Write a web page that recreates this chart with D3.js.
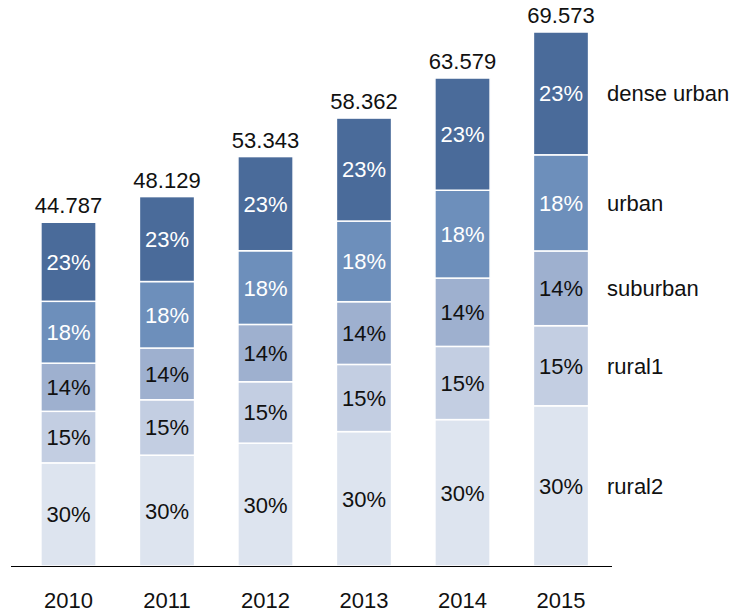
<!DOCTYPE html>
<html>
<head>
<meta charset="utf-8">
<script src="https://cdn.jsdelivr.net/npm/d3@7"></script>
<style>
html,body{margin:0;padding:0;background:#fff;}
svg text{font-family:"Liberation Sans",Arial,sans-serif;}
</style>
</head>
<body>
<svg id="chart" width="732" height="614"></svg>
<script>
const years = ["2010","2011","2012","2013","2014","2015"];
const totals = [44.787, 48.129, 53.343, 58.362, 63.579, 69.573];
const segments = ["rural2","rural1","suburban","urban","dense urban"];
const shares = [0.30, 0.15, 0.14, 0.18, 0.23];
const shareLabels = ["30%","15%","14%","18%","23%"];
const colors = ["#dde4ef","#c3cee2","#9eb0cf","#6d8fbb","#4a6b9a"];
const labelColors = ["#111","#111","#111","#fff","#fff"];

const svg = d3.select("#chart");
const fontSize = 22;

const x = d3.scaleBand().domain(years).range([19.25, 610.25]).paddingInner(0.44).paddingOuter(0.22);
const y = d3.scaleLinear().domain([0, 69.573]).range([566, 32]);

// build stacked data
const rows = years.map((yr, i) => {
  const r = {year: yr, total: totals[i]};
  segments.forEach((s, j) => r[s] = totals[i] * shares[j]);
  return r;
});
const stack = d3.stack().keys(segments)(rows);

const g = svg.append("g");
stack.forEach((layer, j) => {
  const lg = g.append("g");
  lg.selectAll("rect").data(layer).enter().append("rect")
    .attr("x", d => x(d.data.year))
    .attr("width", x.bandwidth())
    .attr("y", d => y(d[1]))
    .attr("height", d => y(d[0]) - y(d[1]))
    .attr("fill", colors[j])
    .attr("stroke", "#fff")
    .attr("stroke-width", 1.5);
  lg.selectAll("text").data(layer).enter().append("text")
    .attr("x", d => x(d.data.year) + x.bandwidth()/2)
    .attr("y", d => (y(d[0]) + y(d[1]))/2)
    .attr("dy", "0.36em")
    .attr("text-anchor", "middle")
    .attr("font-size", fontSize)
    .attr("fill", labelColors[j])
    .text(shareLabels[j]);
});

// totals
svg.append("g").selectAll("text").data(rows).enter().append("text")
  .attr("x", d => x(d.year) + x.bandwidth()/2)
  .attr("y", d => y(d.total) - 9)
  .attr("text-anchor", "middle")
  .attr("font-size", fontSize)
  .attr("fill", "#111")
  .text(d => d3.format(".3f")(d.total));

// axis
const axis = d3.axisBottom(x).tickSize(0).tickPadding(0);
const ax = svg.append("g").attr("transform", "translate(0,566)").call(axis);
ax.select(".domain").remove();
ax.selectAll("text").attr("font-size", fontSize).attr("fill", "#111")
  .attr("font-family", "Liberation Sans, Arial, sans-serif")
  .attr("dy", null).attr("y", 42);
svg.append("line").attr("x1", 11).attr("x2", 612).attr("y1", 566.5).attr("y2", 566.5)
  .attr("stroke", "#000").attr("stroke-width", 1.2);

// legend labels beside last bar
const last = stack.map(l => l[l.length - 1]);
svg.append("g").selectAll("text").data(last).enter().append("text")
  .attr("x", 607)
  .attr("y", d => (y(d[0]) + y(d[1]))/2)
  .attr("dy", "0.36em")
  .attr("font-size", fontSize)
  .attr("fill", "#111")
  .text((d, j) => segments[j]);
</script>
</body>
</html>
